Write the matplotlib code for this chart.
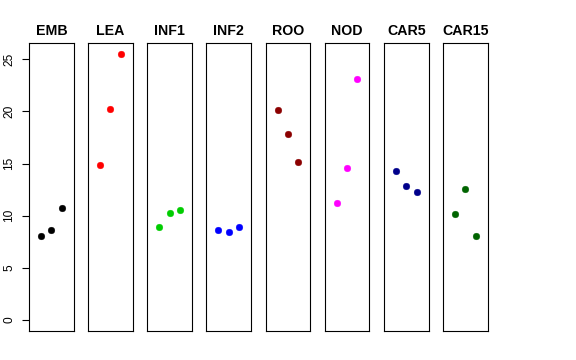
import matplotlib
matplotlib.use("Agg")
import matplotlib.pyplot as plt

plt.rcParams["font.family"] = ["Liberation Sans", "DejaVu Sans"]

tissues = ["EMB", "LEA", "INF1", "INF2", "ROO", "NOD", "CAR5", "CAR15"]
values = {
    "EMB":   [8.07, 8.62, 10.69],
    "LEA":   [14.9, 20.2, 25.54],
    "INF1":  [8.87, 10.25, 10.54],
    "INF2":  [8.65, 8.39, 8.87],
    "ROO":   [20.14, 17.87, 15.1],
    "NOD":   [11.26, 14.59, 23.08],
    "CAR5":  [14.3, 12.89, 12.29],
    "CAR15": [10.15, 12.55, 8.01],
}
colors = ["#000000", "#FF0000", "#00CD00", "#0000FF", "#8B0000", "#FF00FF", "#00008B", "#006400"]
yticks = [0, 5, 10, 15, 20, 25]

W, H = 576, 360
fig = plt.figure(figsize=(W / 100, H / 100), dpi=100)
left0 = 29.0
pitch = 59.14
pw = 44.7
top, bottom = 43.3, 330.7

for i, (t, c) in enumerate(zip(tissues, colors)):
    ax = fig.add_axes([(left0 + i * pitch) / W, (H - bottom) / H, pw / W, (bottom - top) / H])
    ax.plot([1, 2, 3], values[t], "o", color=c, ms=4.8, mec=c, mew=0.3)
    ax.set_xlim(-0.16, 4.16)
    ax.set_ylim(-1.02, 26.52)
    ax.set_xticks([])
    for s in ax.spines.values():
        s.set_linewidth(0.8)
        s.set_color("black")
    ax.set_title(t, fontsize=10.2, fontweight="bold", pad=6)
    if i == 0:
        ax.set_yticks(yticks)
        ax.set_yticklabels([str(v) for v in yticks], rotation=90, va="center", fontsize=8.6)
        ax.tick_params(axis="y", direction="out", length=5.2, width=0.8, pad=4.8)
    else:
        ax.set_yticks([])

fig.savefig("out.png", dpi=100)
